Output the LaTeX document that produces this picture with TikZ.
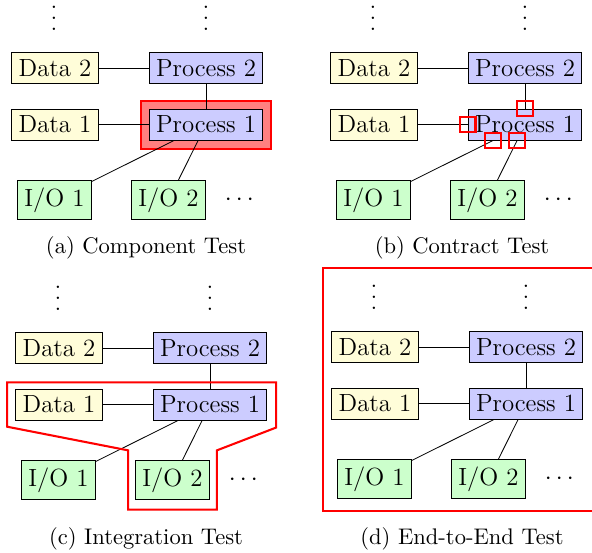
\documentclass[tikz,border=0pt]{standalone}
\usepackage{amsmath}
\usepackage{amssymb}
\usepackage{xcolor}
\usepackage{tikz}
\usetikzlibrary{fit,backgrounds}

\tikzset{
  data/.style={draw,fill=yellow!15},
  proc/.style={draw,fill=blue!20},
  io/.style={draw,fill=green!20},
  vdotsnode/.style={inner sep=0pt},
  hilite/.style={draw=red,line width=1pt,fill=red!50,inner sep=3.9pt},
  contract/.style={draw=red,line width=1pt,minimum size=7.5pt,inner sep=0pt},
  outline/.style={draw=red,line width=1pt},
  caption/.style={font=\fontsize{10.9}{13}\selectfont}
}

% vertical dots without the empty space on top
\newcommand{\tightvdots}{\vbox{\baselineskip5.3pt\lineskiplimit0pt\hbox{.}\hbox{.}\hbox{.}}}

% one test panel: data, processes and i/o
\newcommand{\panelnodes}{%
  \node[vdotsnode] (vd) at (0.917,-0.314) {\tightvdots};
  \node[vdotsnode] (vp) at (3.498,-0.314) {\tightvdots};
  \node[data] (d2) at (0.934,-1.155) {Data 2};
  \node[proc] (p2) at (3.498,-1.155) {Process 2};
  \node[data] (d1) at (0.934,-2.115) {Data 1};
  \node[proc] (p1) at (3.498,-2.115) {Process 1};
  \node[io] (io1) at (0.925,-3.396) {I/O 1};
  \node[io] (io2) at (2.861,-3.396) {I/O 2};
  \node (more) at (4.100,-3.396) {$\cdots$};
  \draw (d2) -- (p2);
  \draw (d1) -- (p1);
  \draw (p2) -- (p1);
  \draw (p1) -- (io1);
  \draw (p1) -- (io2);
}

\begin{document}
\begin{tikzpicture}[font=\large]
  \useasboundingbox (0,0) rectangle (10.051,-9.389);

  % (a) component
  \begin{scope}[name prefix=a-]
    \panelnodes
    \begin{scope}[on background layer]
      \node[hilite,fit=(p1)] (hl) {};
    \end{scope}
  \end{scope}

  % (b) contract
  \begin{scope}[shift={(5.416,0)},name prefix=b-]
    \panelnodes
    \node[contract] (k1) at (p1.north) {};
    \node[contract] (k2) at (p1.west) {};
    \path (p1) -- (io1) node[contract,pos=0] (k3) {};
    \path (p1) -- (io2) node[contract,pos=0] (k4) {};
  \end{scope}

  % (c) integration
  \begin{scope}[shift={(0.068,-4.754)},name prefix=c-]
    \panelnodes
    \draw[outline] ([shift={(-4pt,3pt)}]d1.north west) -| ([shift={(4.3pt,-3.4pt)}]p1.south east)
      -- ([shift={(3.4pt,4.8pt)}]io2.north east) |- ([shift={(-3.4pt,-4.8pt)}]io2.south west)
      -- ([shift={(-3.4pt,4.8pt)}]io2.north west) -- ([shift={(-4pt,-3pt)}]d1.south west) -- cycle;
  \end{scope}

  % (d) end-to-end
  \begin{scope}[shift={(5.433,-4.737)},name prefix=d-]
    \panelnodes
    \draw[outline] ([xshift=-4pt]d2.west |- 0,0.19) rectangle ([shift={(7pt,-5.8pt)}]p2.east |- io1.south);
  \end{scope}

  \node[caption] (capa) at (2.479,-4.202) {(a) Component Test};
  \node[caption] (capb) at (7.844,-4.202) {(b) Contract Test};
  \node[caption] (capc) at (2.479,-9.143) {(c) Integration Test};
  \node[caption] (capd) at (7.844,-9.143) {(d) End-to-End Test};
\end{tikzpicture}
\end{document}
